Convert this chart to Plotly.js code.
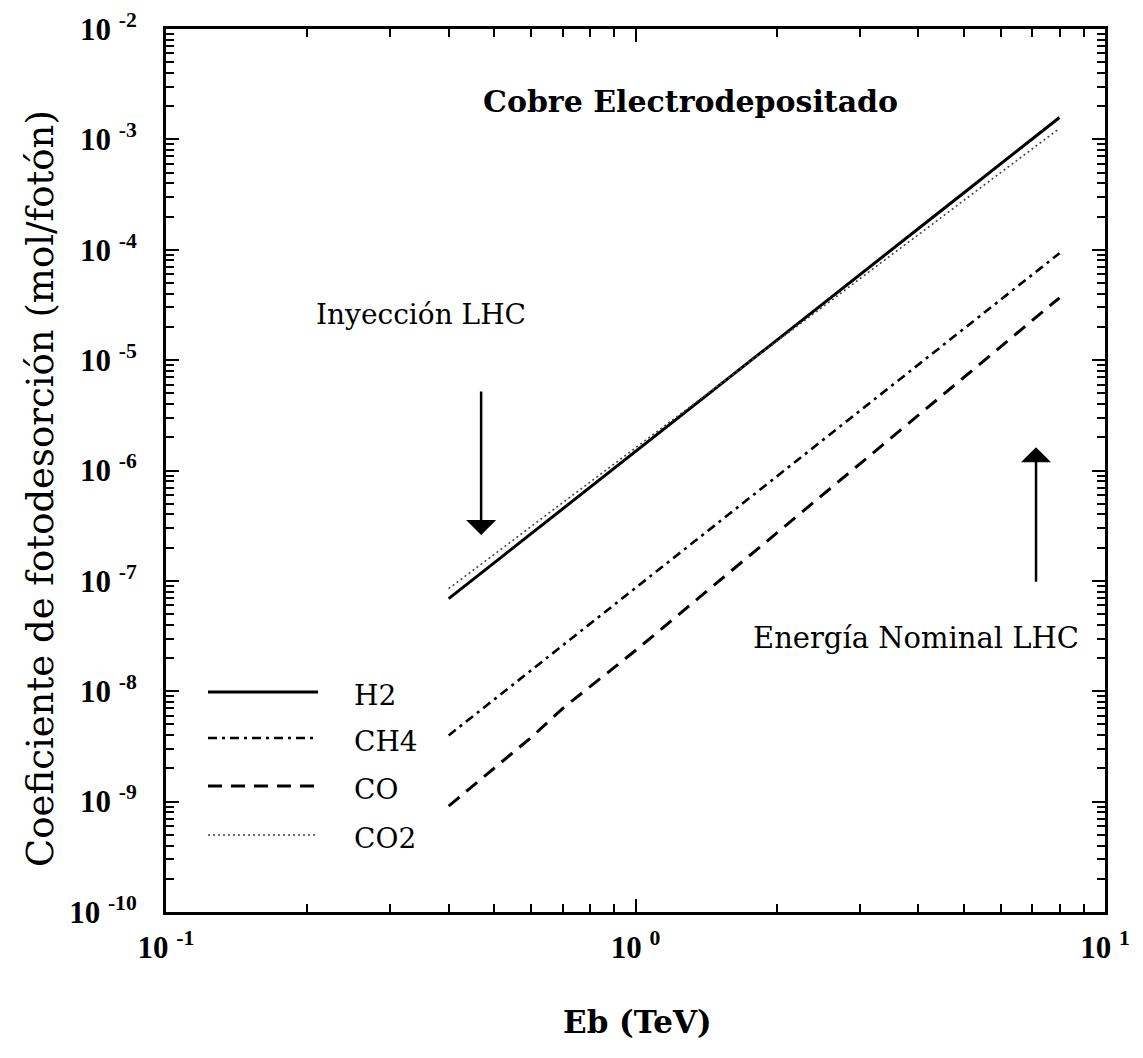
<!DOCTYPE html>
<html>
<head>
<meta charset="utf-8">
<script src="https://cdn.plot.ly/plotly-3.0.1.min.js"></script>
<style>html,body{margin:0;padding:0;background:#fff;}#chart{width:1143px;height:1058px;}</style>
</head>
<body>
<div id="chart"></div>
<script>
// Beam energy (TeV)
const energy = [0.4, 0.5, 0.6, 0.7, 0.8, 0.9, 1.0, 1.2, 1.5, 2, 2.5, 3, 4, 5, 6, 7, 8];
// Photodesorption coefficients (mol/photon)
const h2  = [6.9e-8, 1.46e-7, 2.69e-7, 4.51e-7, 7.05e-7, 1.04e-6, 1.49e-6, 2.74e-6, 5.8e-6, 1.52e-5, 3.21e-5, 5.9e-5, 1.55e-4, 3.27e-4, 6.0e-4, 1.01e-3, 1.58e-3];
const ch4 = [3.98e-9, 8.43e-9, 1.55e-8, 2.61e-8, 4.08e-8, 6.07e-8, 8.65e-8, 1.6e-7, 3.38e-7, 8.9e-7, 1.88e-6, 3.47e-6, 9.1e-6, 1.93e-5, 3.56e-5, 5.97e-5, 9.3e-5];
const co  = [9.1e-10, 2.0e-9, 3.83e-9, 7.0e-9, 1.1e-8, 1.61e-8, 2.34e-8, 4.46e-8, 9.8e-8, 2.72e-7, 6.0e-7, 1.14e-6, 3.16e-6, 6.97e-6, 1.33e-5, 2.29e-5, 3.67e-5];
const co2 = [8.5e-8, 1.74e-7, 3.12e-7, 5.12e-7, 7.85e-7, 1.14e-6, 1.61e-6, 2.88e-6, 5.9e-6, 1.48e-5, 3.03e-5, 5.42e-5, 1.36e-4, 2.79e-4, 5.0e-4, 8.2e-4, 1.26e-3];
const seriesNames = ["H2", "CH4", "CO", "CO2"];
// Tick labels
const xTickVals = [0.1, 1, 10];
const xTickText = ["10 <sup>-1</sup>", "10 <sup>0</sup>", "10 <sup>1</sup>"];
const yTickVals = [1e-10, 1e-9, 1e-8, 1e-7, 1e-6, 1e-5, 1e-4, 1e-3, 1e-2];
const yTickText = ["10 <sup>-10</sup>", "10 <sup>-9</sup>", "10 <sup>-8</sup>", "10 <sup>-7</sup>", "10 <sup>-6</sup>", "10 <sup>-5</sup>", "10 <sup>-4</sup>", "10 <sup>-3</sup>", "10 <sup>-2</sup>"];
const chartTitle = "Cobre Electrodepositado";
const xTitle = "Eb (TeV)";
const yTitle = "Coeficiente de fotodesorción (mol/fotón)";
const noteInjection = "Inyección LHC";
const noteNominal = "Energía Nominal LHC";

const FONT = "DejaVu Serif, serif";
const TICKFONT = "Liberation Serif, serif";
const styles = [
  {color: "#000", width: 3, dash: "solid"},
  {color: "#000", width: 2.6, dash: "9px,5px,3px,5px"},
  {color: "#000", width: 3, dash: "14px,9px"},
  {color: "#444", width: 1.6, dash: "2px,3px"}
];
const ys = [h2, ch4, co, co2];
const traces = ys.map((y, i) => ({
  x: energy, y: y, type: "scatter", mode: "lines", name: seriesNames[i],
  line: styles[i], showlegend: false
}));

// minor ticks 2..9 in each decade
function minorTicks(lo, hi) {
  const v = [];
  for (let e = lo; e < hi; e++) for (let m = 2; m <= 9; m++) v.push(m * Math.pow(10, e));
  return v;
}

const plotTop = 29, plotBottom = 912, plotLeft = 166, plotRight = 1105;
const py = v => (plotBottom - v) / (plotBottom - plotTop);
const px = v => (v - plotLeft) / (plotRight - plotLeft);
const legY = [692, 738, 786, 835];
const shapes = [];
const annotations = [];
seriesNames.forEach((n, i) => {
  shapes.push({type: "line", xref: "paper", yref: "paper", x0: px(208), x1: px(318), y0: py(legY[i]), y1: py(legY[i]), line: styles[i]});
  annotations.push({xref: "paper", yref: "paper", x: px(352), y: py(legY[i] + 3), xanchor: "left", yanchor: "middle", text: n, showarrow: false, font: {family: FONT, size: 28, color: "#000"}});
});

annotations.push(
  {xref: "paper", yref: "paper", x: px(690), y: py(101), xanchor: "center", yanchor: "middle", text: "<b>" + chartTitle + "</b>", showarrow: false, font: {family: FONT, size: 30, color: "#000"}},
  {xref: "paper", yref: "paper", x: px(421), y: py(314), xanchor: "center", yanchor: "middle", text: noteInjection, showarrow: false, font: {family: FONT, size: 28, color: "#000"}},
  {xref: "paper", yref: "paper", x: px(916), y: py(638), xanchor: "center", yanchor: "middle", text: noteNominal, showarrow: false, font: {family: FONT, size: 29, color: "#000"}},
  {xref: "paper", yref: "paper", x: px(637), y: py(1022), xanchor: "center", yanchor: "middle", text: "<b>" + xTitle + "</b>", showarrow: false, font: {family: FONT, size: 31, color: "#000"}},
  {xref: "paper", yref: "paper", x: px(40), y: py(489), xanchor: "center", yanchor: "middle", textangle: -90, text: yTitle, showarrow: false, font: {family: FONT, size: 37, color: "#000"}},
  {x: Math.log10(0.469), y: Math.log10(2.6e-7), xref: "x", yref: "y", text: "", showarrow: true, arrowhead: 1, arrowsize: 2, arrowwidth: 2.5, arrowcolor: "#000", ax: 0, ay: -145},
  {x: Math.log10(7.13), y: Math.log10(1.62e-6), xref: "x", yref: "y", text: "", showarrow: true, arrowhead: 1, arrowsize: 2, arrowwidth: 2.5, arrowcolor: "#000", ax: 0, ay: 136}
);

const axisCommon = {
  type: "log", showgrid: false, zeroline: false,
  showline: true, linecolor: "#000", linewidth: 3, mirror: "ticks",
  ticks: "inside", ticklen: 13, tickwidth: 2, tickcolor: "#000",
  tickfont: {family: TICKFONT, size: 31, color: "#000", weight: "bold"}
};

const layout = {
  width: 1143, height: 1058,
  paper_bgcolor: "#fff", plot_bgcolor: "#fff",
  margin: {l: 166, r: 38, t: 29, b: 146},
  font: {family: FONT, color: "#000"},
  showlegend: false,
  xaxis: Object.assign({}, axisCommon, {
    range: [-1, 1], tickmode: "array", tickvals: xTickVals, ticktext: xTickText,
    ticklabelstandoff: 6,
    minor: {tickmode: "array", tickvals: minorTicks(-1, 1), ticks: "inside", ticklen: 8, tickwidth: 2, tickcolor: "#000", showgrid: false}
  }),
  yaxis: Object.assign({}, axisCommon, {
    range: [-10, -2], tickmode: "array", tickvals: yTickVals, ticktext: yTickText,
    ticklabelstandoff: 20,
    minor: {tickmode: "array", tickvals: minorTicks(-10, -2), ticks: "inside", ticklen: 8, tickwidth: 2, tickcolor: "#000", showgrid: false}
  }),
  shapes: shapes,
  annotations: annotations
};

Plotly.newPlot("chart", traces, layout, {staticPlot: true, displayModeBar: false});
</script>
</body>
</html>
